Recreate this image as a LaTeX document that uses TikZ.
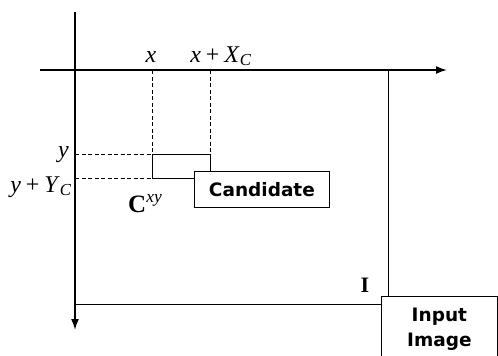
\documentclass[tikz,border=0pt]{standalone}
\usepackage{fontspec}
\newfontfamily\boxfont{DejaVu Sans}
\newfontfamily\lblfont{Liberation Serif}
\usetikzlibrary{arrows.meta}
\begin{document}
\begin{tikzpicture}[x=1pt,y=-1pt,
  axis/.style={line width=1.7pt,-{Latex[length=11pt,width=8pt]}},
  edge/.style={line width=1pt},
  guide/.style={line width=0.9pt,dash pattern=on 4pt off 2.5pt},
  labelbox/.style={draw,line width=0.8pt,fill=white,inner sep=0pt,font=\boxfont\bfseries\fontsize{18.5}{25}\selectfont,align=center},
  mathlbl/.style={inner sep=0pt,font=\lblfont\fontsize{24}{28}\selectfont}]
\useasboundingbox (0,0) rectangle (498,356);
% coordinates
\coordinate (O) at (75,70);
\coordinate (xs) at (40,70);
\coordinate (xe) at (447,70);
\coordinate (ys) at (75,12);
\coordinate (ye) at (75,330);
\coordinate (TR) at (388,70);
\coordinate (BR) at (388,304);
\coordinate (BL) at (75,304);
\coordinate (xa) at (152,70);
\coordinate (xb) at (210,70);
\coordinate (ya) at (75,154);
\coordinate (yb) at (75,178);
\coordinate (c1) at (152,154);
\coordinate (c2) at (210,154);
\coordinate (c3) at (210,178);
\coordinate (c4) at (152,178);
% image rectangle
\draw[edge] (BL) -- (BR) -- (TR);
% guides
\draw[guide] (xa) -- (c1);
\draw[guide] (xb) -- (c2);
\draw[guide] (ya) -- (c1);
\draw[guide] (yb) -- (c4);
% candidate rectangle
\draw[edge] (c4) -- (c1) -- (c2) -- (c3) -- cycle;
% axes
\draw[axis] (xs) -- (xe);
\draw[axis] (ys) -- (ye);
% label boxes
\node[labelbox,anchor=north west,minimum width=135pt,minimum height=36pt] (cand) at (194,171) {Candidate};
\node[labelbox,anchor=north west,minimum width=116pt,minimum height=65pt] (inp) at (381,296) {Input\\Image};
% math labels
\node[mathlbl,anchor=base] (lx) at (151,62) {\textit{x}};
\node[mathlbl,anchor=base] (lxX) at (221,62) {\textit{x}\hspace{5pt}+\hspace{5pt}\textit{X}\textsubscript{\textit{C}}};
\node[mathlbl,anchor=base east] (ly) at (69,157) {\textit{y}};
\node[mathlbl,anchor=base east] (lyY) at (72,192) {\textit{y}\hspace{5pt}+\hspace{5pt}\textit{Y}\textsubscript{\textit{C}}};
\node[mathlbl,anchor=base west,font=\lblfont\fontsize{25}{28}\selectfont] (lC) at (128,212) {\textbf{C}\textsuperscript{\textit{xy}}};
\node[mathlbl,anchor=base,font=\lblfont\bfseries\fontsize{22}{24}\selectfont] (lI) at (365,292) {I};
\end{tikzpicture}
\end{document}
